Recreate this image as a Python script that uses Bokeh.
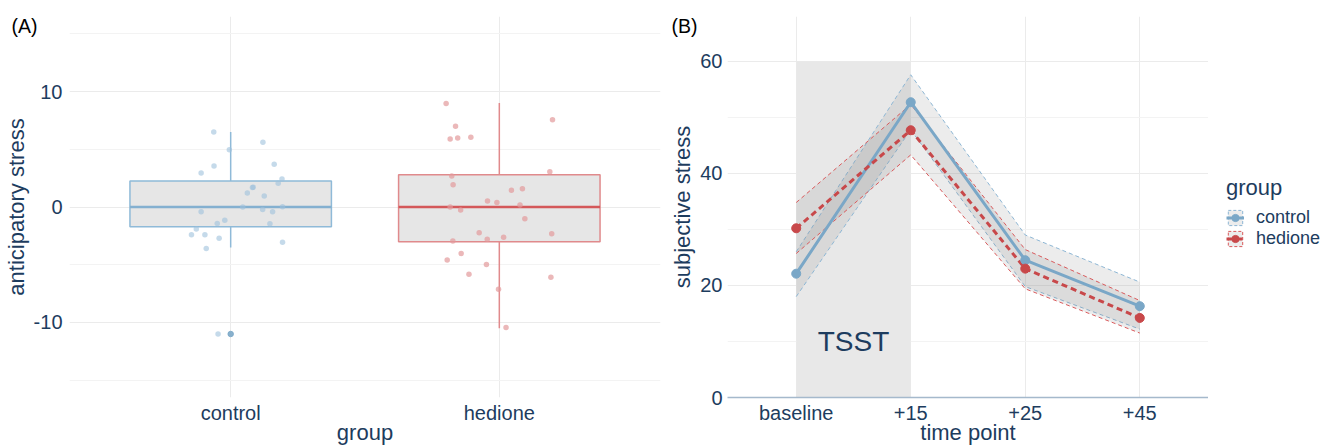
from bokeh.plotting import figure
from bokeh.layouts import row
from bokeh.models import (FixedTicker, Label, Legend, LegendItem, Range1d, Title)
from bokeh.embed import file_html
from bokeh.resources import INLINE

# ---------------- Panel A data ----------------
groups = ["control", "hedione"]
box_q1 = [-1.72, -3.0]
box_median = [0.0, 0.0]
box_q3 = [2.25, 2.8]
whisker_low = [-3.5, -10.5]
whisker_high = [6.5, 9.0]
outlier_group = ["control"]
outlier_value = [-11.0]

control_jitter = [-0.063, 0.120, -0.005, -0.062, 0.162, -0.110, 0.191, 0.177, 0.084, 0.081,
                  0.062, 0.125, 0.045, 0.193, 0.119, -0.110, 0.156, -0.022, -0.050, 0.146,
                  -0.128, -0.146, -0.096, -0.043, 0.193, -0.091, -0.047]
control_values = [6.5, 5.6, 4.95, 3.55, 3.7, 2.95, 2.43, 2.05, 1.72, 1.68,
                  1.22, 0.96, 0.0, 0.03, -0.22, -0.42, -0.42, -1.14, -1.43, -1.45,
                  -1.9, -2.4, -2.4, -2.7, -3.05, -3.6, -11.0]
hedione_jitter = [-0.198, 0.198, -0.163, -0.183, -0.155, -0.106, 0.188, -0.177, -0.172, 0.086,
                  0.045, -0.044, -0.009, 0.077, -0.183, -0.144, 0.095, -0.075, 0.195, -0.045,
                  0.016, -0.173, -0.142, -0.194, -0.048, -0.113, 0.192, -0.003, 0.025]
hedione_values = [8.96, 7.55, 7.0, 5.88, 5.97, 6.05, 3.05, 2.68, 1.93, 1.59,
                  1.44, 0.52, 0.40, 0.17, 0.0, -0.26, -1.01, -2.22, -2.31, -2.80,
                  -2.62, -2.94, -4.03, -4.58, -4.99, -5.82, -6.08, -7.12, -10.43]
a_ticks = [-10, 0, 10]
a_minor = [-15, -5, 5, 15]

# ---------------- Panel B data ----------------
timepoints = ["baseline", "+15", "+25", "+45"]
control_mean = [22.1, 52.7, 24.5, 16.3]
control_lower = [18.0, 47.8, 19.8, 12.2]
control_upper = [26.0, 57.6, 29.0, 20.6]
hedione_mean = [30.2, 47.7, 23.0, 14.2]
hedione_lower = [25.7, 43.3, 19.4, 11.5]
hedione_upper = [34.8, 52.3, 26.4, 17.3]
tsst_window = ["baseline", "+15"]
tsst_top = 60
b_ticks = [0, 20, 40, 60]
b_minor = [10, 30, 50]

# ---------------- styling ----------------
TEXT = "#1d3c5e"
FONT = "Liberation Sans"
GRID = "#ebebeb"
MINOR = "#f3f3f3"
BLUE = "#7aa7c7"
BLUE_EDGE = "#8db6d4"
RED = "#c8484a"
RED_EDGE = "#d95a5c"
TOP = 16


def style_axes(p, ylabel_standoff, ytitle_standoff):
    for ax in (p.xaxis[0], p.yaxis[0]):
        ax.major_tick_line_color = None
        ax.minor_tick_line_color = None
        ax.major_tick_out = 0
        ax.major_tick_in = 0
        ax.minor_tick_out = 0
        ax.minor_tick_in = 0
        ax.major_label_text_font = FONT
        ax.major_label_text_font_size = "20px"
        ax.major_label_text_color = TEXT
        ax.axis_label_text_font = FONT
        ax.axis_label_text_font_size = "22px"
        ax.axis_label_text_color = TEXT
        ax.axis_label_text_font_style = "normal"
    p.xaxis[0].major_label_standoff = 4
    p.xaxis[0].axis_label_standoff = -7
    p.yaxis[0].major_label_standoff = ylabel_standoff
    p.yaxis[0].axis_label_standoff = ytitle_standoff
    p.outline_line_color = None
    p.xgrid.grid_line_color = GRID
    p.ygrid.grid_line_color = GRID
    p.ygrid.minor_grid_line_color = MINOR
    p.xgrid.grid_line_width = 1
    p.ygrid.grid_line_width = 1


def tag(p, text, offset):
    t = Title(text=text, align="left", offset=offset, standoff=-40, vertical_align="bottom",
              text_font=FONT, text_font_size="19.5px", text_color="black",
              text_font_style="normal")
    p.add_layout(t, "above")


# ================= Panel A =================
pA = figure(frame_width=591, frame_height=381, output_backend="svg", toolbar_location=None,
            x_range=Range1d(0.4, 2.6), y_range=Range1d(-16.5, 16.5),
            min_border_left=62, min_border_right=7, min_border_top=TOP, min_border_bottom=0)
pos = list(range(1, len(groups) + 1))
pA.xaxis.ticker = FixedTicker(ticks=pos)
pA.xaxis.major_label_overrides = {i: g for i, g in zip(pos, groups)}
pA.xaxis.axis_label = "group"
pA.yaxis.ticker = FixedTicker(ticks=a_ticks, minor_ticks=a_minor)
pA.yaxis.major_label_overrides = {t: str(t) for t in a_ticks}
pA.yaxis.axis_label = "anticipatory stress"
pA.xaxis.axis_line_color = None
pA.yaxis.axis_line_color = None
style_axes(pA, 7, 2)

box_line = ["#8fbad8", "#e08a8c"]
med_line = ["#84b0d0", "#d4585a"]
pt_col = ["#9fc2dc", "#e39a9b"]
half = 0.375
pA.segment(x0=pos, x1=pos, y0=box_q3, y1=whisker_high, line_color=box_line, line_width=1.5)
pA.segment(x0=pos, x1=pos, y0=box_q1, y1=whisker_low, line_color=box_line, line_width=1.5)
pA.vbar(x=pos, width=2 * half, bottom=box_q1, top=box_q3, fill_color="#e6e6e6",
        line_color=box_line, line_width=1.5)
pA.segment(x0=[x - half for x in pos], x1=[x + half for x in pos], y0=box_median, y1=box_median,
           line_color=med_line, line_width=2.5)
pA.scatter(x=[pos[groups.index(g)] for g in outlier_group], y=outlier_value, size=5.5,
           color="#7ca8c8", alpha=0.9)
pA.scatter(x=[pos[0] + j for j in control_jitter], y=control_values, size=5.5,
           color=pt_col[0], alpha=0.6, line_color=None)
pA.scatter(x=[pos[1] + j for j in hedione_jitter], y=hedione_values, size=5.5,
           color=pt_col[1], alpha=0.7, line_color=None)
tag(pA, "(A)", -58)

# ================= Panel B =================
pB = figure(frame_width=481, frame_height=381, output_backend="svg", toolbar_location=None,
            x_range=Range1d(0.4, 4.6), y_range=Range1d(0, 68),
            min_border_left=55, min_border_right=0, min_border_top=TOP, min_border_bottom=0)
tpos = list(range(1, len(timepoints) + 1))
pB.xaxis.ticker = FixedTicker(ticks=tpos)
pB.xaxis.major_label_overrides = {i: t for i, t in zip(tpos, timepoints)}
pB.xaxis.axis_label = "time point"
pB.yaxis.ticker = FixedTicker(ticks=b_ticks, minor_ticks=b_minor)
pB.yaxis.axis_label = "subjective stress"
pB.xaxis.axis_line_color = "#a5b9cc"
pB.xaxis.axis_line_width = 1.3
pB.yaxis.axis_line_color = None
style_axes(pB, 5, 2)

pB.quad(left=[tpos[timepoints.index(tsst_window[0])]], right=[tpos[timepoints.index(tsst_window[1])]],
        bottom=[0], top=[tsst_top], fill_color="#e8e8e8", line_color=None)
pB.add_layout(Label(x=sum(tpos[timepoints.index(t)] for t in tsst_window) / 2, y=10,
                    text="TSST", text_font=FONT, text_font_size="28px", text_color=TEXT,
                    text_baseline="middle", text_align="center"))


def draw_band(p, lower, upper, edge):
    band_x = tpos + tpos[::-1]
    band_y = list(upper) + list(lower)[::-1]
    p.patch(band_x, band_y, fill_color="#808080", fill_alpha=0.15, line_color=None)
    p.line(tpos, lower, line_color=edge, line_width=1, line_dash="4 3")
    p.line(tpos, upper, line_color=edge, line_width=1, line_dash="4 3")


draw_band(pB, control_lower, control_upper, BLUE_EDGE)
draw_band(pB, hedione_lower, hedione_upper, RED_EDGE)
pB.line(tpos, control_mean, line_color=BLUE, line_width=3)
pB.line(tpos, hedione_mean, line_color=RED, line_width=3, line_dash="6 4")
pB.scatter(tpos, control_mean, size=9, color=BLUE)
pB.scatter(tpos, hedione_mean, size=9, color=RED)
tag(pB, "(B)", -56)

# ================= Legend panel =================
pL = figure(width=113, height=381 + TOP + 48, output_backend="svg", toolbar_location=None,
            x_axis_type=None, y_axis_type=None, x_range=Range1d(-20, -10), y_range=Range1d(-20, -10),
            min_border=0)
pL.outline_line_color = None
pL.grid.visible = False
items = []
for name, mean, lower, upper, col, edge, dash in (
        ("control", control_mean, control_lower, control_upper, BLUE, BLUE_EDGE, "solid"),
        ("hedione", hedione_mean, hedione_lower, hedione_upper, RED, RED_EDGE, "6 4")):
    kp = pL.patch(tpos + tpos[::-1], list(upper) + list(lower)[::-1], fill_color="#808080",
                  fill_alpha=0.15, line_color=edge, line_width=1, line_dash="3 2")
    kl = pL.line(tpos, mean, line_color=col, line_width=3, line_dash=dash)
    ks = pL.scatter(tpos, mean, size=10, color=col)
    items.append(LegendItem(label=name, renderers=[kp, kl, ks]))

legend = Legend(items=items, title="group", location=(18, 146))
legend.title_text_font = FONT
legend.title_text_font_size = "22px"
legend.title_text_color = TEXT
legend.title_text_font_style = "normal"
legend.title_standoff = 6
legend.label_text_font = FONT
legend.label_text_font_size = "18px"
legend.label_text_color = TEXT
legend.glyph_width = 18
legend.glyph_height = 19
legend.label_height = 19
legend.label_standoff = 12
legend.spacing = 0
legend.padding = 0
legend.margin = 0
legend.border_line_color = None
legend.background_fill_alpha = 0
pL.add_layout(legend)

layout = row(pA, pB, pL)
open("out.html", "w").write(file_html(layout, INLINE))
